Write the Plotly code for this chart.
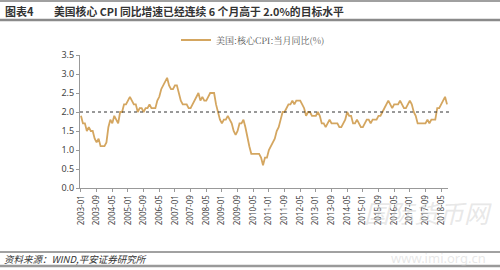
import plotly.graph_objects as go

years = list(range(2003, 2019))
core_cpi = [
    # 2003
    1.9, 1.7, 1.7, 1.5, 1.6, 1.5, 1.5, 1.3, 1.2, 1.3, 1.1, 1.1,
    # 2004
    1.1, 1.2, 1.6, 1.8, 1.7, 1.9, 1.8, 1.7, 2.0, 2.0, 2.2, 2.2,
    # 2005
    2.3, 2.4, 2.3, 2.2, 2.2, 2.0, 2.1, 2.1, 2.0, 2.1, 2.1, 2.2,
    # 2006
    2.1, 2.1, 2.1, 2.3, 2.4, 2.6, 2.7, 2.8, 2.9, 2.7, 2.6, 2.6,
    # 2007
    2.7, 2.7, 2.5, 2.3, 2.2, 2.2, 2.2, 2.1, 2.1, 2.2, 2.3, 2.4,
    # 2008
    2.5, 2.3, 2.4, 2.3, 2.3, 2.4, 2.5, 2.5, 2.5, 2.2, 2.0, 1.8,
    # 2009
    1.7, 1.8, 1.8, 1.9, 1.8, 1.7, 1.5, 1.4, 1.5, 1.7, 1.7, 1.8,
    # 2010
    1.6, 1.3, 1.1, 0.9, 0.9, 0.9, 0.9, 0.9, 0.8, 0.6, 0.8, 0.8,
    # 2011
    1.0, 1.1, 1.2, 1.3, 1.5, 1.6, 1.8, 2.0, 2.0, 2.1, 2.2, 2.2,
    # 2012
    2.3, 2.2, 2.3, 2.3, 2.3, 2.2, 2.1, 1.9, 2.0, 2.0, 1.9, 1.9,
    # 2013
    1.9, 2.0, 1.9, 1.7, 1.7, 1.6, 1.7, 1.8, 1.7, 1.7, 1.7, 1.7,
    # 2014
    1.6, 1.6, 1.7, 1.8, 2.0, 1.9, 1.9, 1.7, 1.7, 1.8, 1.7, 1.6,
    # 2015
    1.6, 1.7, 1.8, 1.8, 1.7, 1.8, 1.8, 1.8, 1.9, 1.9, 2.0, 2.1,
    # 2016
    2.2, 2.3, 2.2, 2.1, 2.2, 2.2, 2.2, 2.3, 2.2, 2.1, 2.1, 2.2,
    # 2017
    2.3, 2.2, 2.0, 1.9, 1.7, 1.7, 1.7, 1.7, 1.7, 1.8, 1.7, 1.8,
    # 2018
    1.8, 1.8, 2.1, 2.1, 2.2, 2.3, 2.4, 2.2,
]
months = [f"{y}-{m:02d}" for y in years for m in range(1, 13)][:len(core_cpi)]
tick_labels = months[::8]
target = 2.0
y_ticks = [0.0, 0.5, 1.0, 1.5, 2.0, 2.5, 3.0, 3.5]

# plot area in pixels: x 80..448, y 55..188
PL, PR, PT, PB = 80, 448, 55, 188
def px(x):
    return (x - PL) / (PR - PL)
def py(y):
    return (PB - y) / (PB - PT)

fig = go.Figure()
fig.add_trace(go.Scatter(
    x=months, y=core_cpi, mode="lines",
    line=dict(color="#D4A660", width=1.8),
    name="美国:核心CPI:当月同比(%)",
))

fig.add_shape(type="line", xref="paper", yref="y", x0=0, x1=px(452), y0=target, y1=target,
              line=dict(color="#333333", width=1, dash="dot"))

# header/footer rules
for yy, w, c in [(1, 2, "#a0a0a0"), (20, 2.5, "#8a8a8a"), (252, 1, "#444444"), (266, 2.5, "#9a9a9a")]:
    fig.add_shape(type="line", xref="paper", yref="paper", x0=px(0), x1=px(500),
                  y0=py(yy), y1=py(yy), line=dict(color=c, width=w))

fig.update_layout(
    width=500, height=270,
    margin=dict(l=PL, r=500 - PR, t=PT, b=270 - PB),
    paper_bgcolor="white", plot_bgcolor="white",
    showlegend=True,
    legend=dict(orientation="h", x=px(176), y=py(40), xanchor="left", yanchor="middle",
                font=dict(family="Noto Serif CJK SC, Noto Sans CJK SC", size=9, color="#555555"),
                bgcolor="rgba(0,0,0,0)"),
    font=dict(family="Noto Sans CJK SC", color="#444444"),
    xaxis=dict(type="category", range=[-0.5, len(months) - 0.5],
               tickmode="array", tickvals=tick_labels, ticktext=tick_labels,
               tickangle=-90, tickfont=dict(size=8, color="#444444", family="Noto Sans"),
               showline=True, linecolor="#999999", linewidth=1,
               ticks="outside", ticklen=3, tickcolor="#999999",
               showgrid=False, zeroline=False),
    yaxis=dict(range=[0, 3.5], tickmode="array", tickvals=y_ticks,
               tickformat=".1f", tickfont=dict(size=9, color="#444444", family="Noto Sans"),
               showline=True, linecolor="#999999", linewidth=1,
               ticks="outside", ticklen=3, tickcolor="#999999",
               showgrid=False, zeroline=False),
)

fig.add_annotation(xref="paper", yref="paper", x=px(3), y=py(10.5), xanchor="left", yanchor="middle",
                   text="<b>图表4</b>", showarrow=False,
                   font=dict(size=11, color="#333333", family="Noto Sans CJK SC"))
fig.add_annotation(xref="paper", yref="paper", x=px(52), y=py(10.5), xanchor="left", yanchor="middle",
                   text="<b>美国核心 CPI 同比增速已经连续 6 个月高于 2.0%的目标水平</b>", showarrow=False,
                   font=dict(size=10.8, color="#333333", family="Noto Sans CJK SC"))
fig.add_annotation(xref="paper", yref="paper", x=px(2), y=py(258.5), xanchor="left", yanchor="middle",
                   text="<i>资料来源：WIND,平安证券研究所</i>", showarrow=False,
                   font=dict(size=9.5, color="#333333", family="Noto Sans CJK SC"))
# watermark
fig.add_annotation(xref="paper", yref="paper", x=px(494), y=py(212), xanchor="right", yanchor="middle",
                   text="<i>国际货币网</i>", showarrow=False,
                   font=dict(size=25, color="rgba(195,195,195,0.4)", family="Noto Sans CJK SC"))
fig.add_annotation(xref="paper", yref="paper", x=px(488), y=py(258), xanchor="right", yanchor="middle",
                   text="www.imi.org.cn", showarrow=False,
                   font=dict(size=13, color="rgba(195,195,195,0.4)", family="Noto Sans"))

fig.write_html("out.html")
